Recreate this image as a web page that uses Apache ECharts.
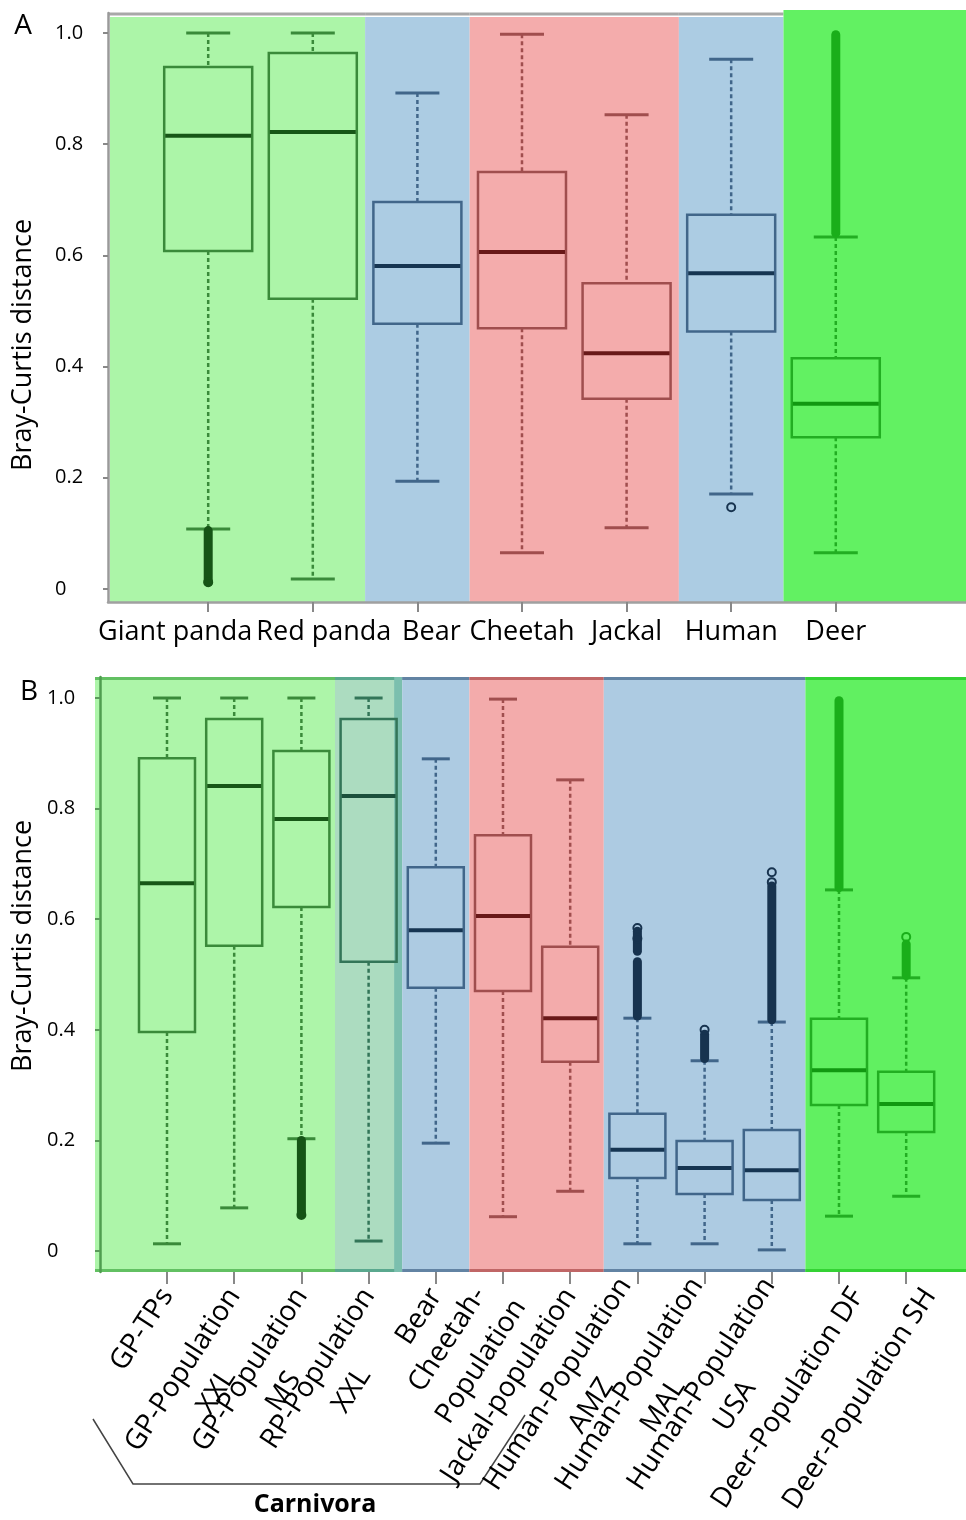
<!DOCTYPE html>
<html>
<head>
<meta charset="utf-8">
<script src="https://cdn.jsdelivr.net/npm/echarts@6/dist/echarts.min.js"></script>
<style>html,body{margin:0;padding:0;background:#fff}#c{width:966px;height:1520px}</style>
</head>
<body>
<div id="c"></div>
<script>
// ---------------- DATA ----------------
const yTicks = [0, 0.2, 0.4, 0.6, 0.8, 1.0];

// Panel A
const catsA = ['Giant panda', 'Red panda', 'Bear', 'Cheetah', 'Jackal', 'Human', 'Deer'];
const lowA  = [0.108, 0.018, 0.194, 0.065, 0.110, 0.171, 0.065];
const q1A   = [0.608, 0.522, 0.477, 0.469, 0.342, 0.463, 0.273];
const medA  = [0.815, 0.822, 0.581, 0.606, 0.424, 0.568, 0.333];
const q3A   = [0.939, 0.964, 0.696, 0.750, 0.550, 0.673, 0.415];
const highA = [1.000, 1.000, 0.892, 0.998, 0.853, 0.953, 0.633];
const groupA = [0, 0, 1, 2, 2, 1, 3];
// dense outlier runs: [category, from, to]
const outRunsA = [[0, 0.012, 0.105], [6, 0.640, 0.997]];
// single outliers: [category, value]
const outPtsA = [[5, 0.147], [0, 0.012]];
// background groups: [first category, last category, colour group]
const bgA = [[0, 1, 0], [2, 2, 1], [3, 4, 2], [5, 5, 1], [6, 6, 3]];

// Panel B
const catsB = ['GP-TPs', 'GP-Population\nXXL', 'GP-Population\nMS', 'RP-Population\nXXL', 'Bear',
  'Cheetah-\nPopulation', 'Jackal-population', 'Human-Population\nAMZ', 'Human-Population\nMAL',
  'Human-Population\nUSA', 'Deer-Population DF', 'Deer-Population SH'];
const lowB  = [0.013, 0.078, 0.203, 0.018, 0.195, 0.062, 0.108, 0.013, 0.013, 0.002, 0.063, 0.099];
const q1B   = [0.396, 0.552, 0.622, 0.523, 0.476, 0.470, 0.342, 0.132, 0.103, 0.092, 0.264, 0.215];
const medB  = [0.665, 0.841, 0.781, 0.823, 0.580, 0.606, 0.421, 0.183, 0.150, 0.146, 0.327, 0.266];
const q3B   = [0.891, 0.962, 0.904, 0.962, 0.694, 0.752, 0.550, 0.248, 0.199, 0.219, 0.420, 0.324];
const highB = [1.000, 1.000, 1.000, 1.000, 0.890, 0.998, 0.852, 0.421, 0.344, 0.414, 0.653, 0.494];
const groupB = [0, 0, 0, 4, 1, 2, 2, 1, 1, 1, 3, 3];
const outRunsB = [[2, 0.066, 0.200], [7, 0.425, 0.523], [7, 0.542, 0.578], [8, 0.348, 0.392],
  [9, 0.418, 0.660], [10, 0.657, 0.995], [11, 0.498, 0.555]];
const outPtsB = [[2, 0.065], [7, 0.584], [7, 0.565], [8, 0.400], [9, 0.685], [9, 0.667], [11, 0.568]];
const bgB = [[0, 2, 0], [3, 3, 4], [4, 4, 1], [5, 6, 2], [7, 9, 1], [10, 11, 3]];

// ---------------- STYLE ----------------
const FONT = '"Open Sans", "Noto Sans", sans-serif';
const PAL = [
  {bg: '#acf5a8', bgB: '#adf5a9', edge: '#62c062', box: '#3a8a3a', med: '#175717', out: '#165416'}, // green
  {bg: '#accce3', bgB: '#adcbe2', edge: '#6283a3', box: '#41668a', med: '#163552', out: '#17334f'}, // blue
  {bg: '#f4acac', bgB: '#f3abab', edge: '#c06666', box: '#a04e4e', med: '#691818', out: '#6c1a1a'}, // red
  {bg: '#62f162', bgB: '#61f061', edge: '#34d234', box: '#22ae22', med: '#119811', out: '#1aae1a'}, // deer
  {bg: '#acdcc0', bgB: '#acdcc0', edge: '#5aa88e', box: '#337558', med: '#1c503c', out: '#1e5440'}  // rp
];

function boxRenderer(boxW) {
  return function (params, api) {
    const x = api.value(0);
    const pal = PAL[api.value(6)];
    const lo = api.coord([x, api.value(1)]);
    const q1 = api.coord([x, api.value(2)]);
    const md = api.coord([x, api.value(3)]);
    const q3 = api.coord([x, api.value(4)]);
    const hi = api.coord([x, api.value(5)]);
    const cx = lo[0], hw = boxW / 2, cw = boxW / 4;
    const dash = {stroke: pal.box, lineWidth: 2.5, lineDash: [4, 3]};
    return {type: 'group', children: [
      {type: 'line', shape: {x1: cx, y1: hi[1], x2: cx, y2: q3[1]}, style: dash},
      {type: 'line', shape: {x1: cx, y1: q1[1], x2: cx, y2: lo[1]}, style: dash},
      {type: 'line', shape: {x1: cx - cw, y1: hi[1], x2: cx + cw, y2: hi[1]}, style: {stroke: pal.box, lineWidth: 3}},
      {type: 'line', shape: {x1: cx - cw, y1: lo[1], x2: cx + cw, y2: lo[1]}, style: {stroke: pal.box, lineWidth: 3}},
      {type: 'rect', shape: {x: cx - hw, y: q3[1], width: boxW, height: q1[1] - q3[1]}, style: {fill: 'none', stroke: pal.box, lineWidth: 2.5}},
      {type: 'line', shape: {x1: cx - hw + 1, y1: md[1], x2: cx + hw - 1, y2: md[1]}, style: {stroke: pal.med, lineWidth: 4}}
    ]};
  };
}
function runRenderer(groups) {
  return function (params, api) {
    const x = api.value(0);
    const pal = PAL[groups[x]];
    const a = api.coord([x, api.value(1)]);
    const b = api.coord([x, api.value(2)]);
    return {type: 'line', shape: {x1: a[0], y1: a[1], x2: b[0], y2: b[1]},
      style: {stroke: pal.out, lineWidth: 9, lineCap: 'round'}};
  };
}
function ptRenderer(groups) {
  return function (params, api) {
    const x = api.value(0);
    const pal = PAL[groups[x]];
    const p = api.coord([x, api.value(1)]);
    return {type: 'circle', shape: {cx: p[0], cy: p[1], r: 4}, style: {fill: 'none', stroke: pal.out, lineWidth: 2}};
  };
}
function bgRendererA(params, api) {
  const cs = params.coordSys;
  const from = api.value(0), to = api.value(1), g = api.value(2);
  const last = to === catsA.length - 1;
  const x0 = from === 0 ? cs.x + 2 : api.coord([from - 0.5, 0])[0];
  const x1 = last ? cs.x + cs.width : api.coord([to + 0.5, 0])[0];
  const top = last ? cs.y - 3 : cs.y + 4;
  const ch = [{type: 'rect', shape: {x: x0, y: top, width: x1 - x0, height: cs.y + cs.height - top}, style: {fill: PAL[g].bg}}];
  if (!last) ch.push({type: 'line', shape: {x1: from === 0 ? cs.x : x0, y1: cs.y + 1, x2: x1, y2: cs.y + 1}, style: {stroke: '#a8a8a8', lineWidth: 3}});
  return {type: 'group', children: ch};
}
function bgRendererB(params, api) {
  const cs = params.coordSys;
  const from = api.value(0), to = api.value(1), g = api.value(2);
  const last = to === catsB.length - 1;
  const x0 = from === 0 ? cs.x - 5 : api.coord([from - 0.5, 0])[0];
  const x1 = last ? cs.x + cs.width : api.coord([to + 0.5, 0])[0];
  const yb = cs.y + cs.height;
  const ch = [
    {type: 'rect', shape: {x: x0, y: cs.y, width: x1 - x0, height: cs.height}, style: {fill: PAL[g].bgB}},
    {type: 'line', shape: {x1: x0, y1: cs.y + 1.5, x2: x1, y2: cs.y + 1.5}, style: {stroke: PAL[g].edge, lineWidth: 3}},
    {type: 'line', shape: {x1: x0, y1: yb - 1.5, x2: x1, y2: yb - 1.5}, style: {stroke: PAL[g].edge, lineWidth: 3}}
  ];
  if (g === 4) ch.push({type: 'rect', shape: {x: x1 - 8, y: cs.y, width: 8, height: cs.height}, style: {fill: '#7bbfae'}});
  return {type: 'group', children: ch};
}

// measure text for centred multi-line labels
const FS_B = 28, LH_B = 40;
const cv = document.createElement('canvas').getContext('2d');
cv.font = FS_B + 'px ' + FONT;
const richB = {};
const labelsB = catsB.map((c, i) => {
  const lines = c.split('\n');
  if (lines.length === 1) return c;
  const widths = lines.map(l => cv.measureText(l).width);
  const w = Math.ceil(Math.max(...widths));
  richB['r' + i] = {width: w, align: 'center', fontSize: FS_B, fontFamily: FONT, lineHeight: LH_B, color: '#000'};
  const body = lines.map(l => '{r' + i + '|' + l + '}');
  // when the first line is the longest it sits on the tick; otherwise the block is centred
  return (widths[0] >= w - 0.5 ? ['{r' + i + '| }'] : []).concat(body).join('\n');
});
const labelsA = catsA.map((c, i) => (i === 0 ? '{sl|' + c + '}' : i === 1 ? '{sr|' + c + '}' : i === 2 ? '{sb|' + c + '}' : c));

// label anchors: the right-hand labels of panel B drift slightly right of their ticks
const idxA = catsA.map((_, i) => i);
const idxB = catsB.map((_, i) => i);
const labPosB = idxB.map(i => i + 0.07 * Math.max(0, i - 6));
// extra empty label slots at the axis ends keep every category label visible
const labValsA = [-0.9].concat(idxA, [7.2]);
const labValsB = [-0.95].concat(labPosB, [11.85]);
const fmtA = v => (Number.isInteger(v) ? labelsA[v] : '');
const fmtB = v => {
  const i = labPosB.findIndex(p => Math.abs(p - v) < 1e-3);
  return i < 0 ? '' : labelsB[i];
};
const yFmt = v => (v === 0 ? '0' : v.toFixed(1));

const chart = echarts.init(document.getElementById('c'), null, {renderer: 'canvas'});
chart.setOption({
  animation: false,
  backgroundColor: '#fff',
  grid: [
    {left: 108, right: 0, top: 13, height: 589, containLabel: false, outerBoundsMode: 'none'},
    {left: 100, right: 0, top: 677, height: 595, containLabel: false, outerBoundsMode: 'none'}
  ],
  xAxis: [
    {type: 'value', gridIndex: 0, min: -0.958, max: 7.245, z: 10,
      axisLine: {show: true, onZero: false, lineStyle: {color: '#a0a0a0', width: 2.5}},
      axisTick: {show: true, customValues: idxA, length: 10, lineStyle: {color: '#888', width: 2}},
      axisLabel: {customValues: labValsA, formatter: fmtA, fontSize: 27, fontFamily: FONT, color: '#000',
        margin: 17, hideOverlap: false,
        rich: {
          sl: {fontSize: 27, fontFamily: FONT, color: '#000', padding: [0, 66, 0, 0]},
          sr: {fontSize: 27, fontFamily: FONT, color: '#000', padding: [0, 0, 0, 22]},
          sb: {fontSize: 27, fontFamily: FONT, color: '#000', padding: [0, 0, 0, 28]}
        }},
      splitLine: {show: false}},
    {type: 'value', gridIndex: 1, min: -0.997, max: 11.89, z: 10,
      axisLine: {show: false, onZero: false},
      axisTick: {show: true, customValues: idxB, length: 12, lineStyle: {color: '#888', width: 2}},
      axisLabel: {customValues: labValsB, formatter: fmtB, rotate: 57, fontSize: FS_B, fontFamily: FONT,
        color: '#000', margin: 19, rich: richB, hideOverlap: false},
      splitLine: {show: false}}
  ],
  yAxis: [
    {type: 'value', gridIndex: 0, min: -0.0234, max: 1.036, z: 10,
      axisLine: {show: true, onZero: false, lineStyle: {color: '#9a9a9a', width: 2.5}},
      axisTick: {show: true, customValues: yTicks, length: 5, lineStyle: {color: '#888', width: 2}},
      axisLabel: {customValues: yTicks, formatter: yFmt, align: 'left', margin: 53, fontSize: 20, fontFamily: FONT, color: '#000'},
      splitLine: {show: false}},
    {type: 'value', gridIndex: 1, min: -0.038, max: 1.038, z: 10,
      axisLine: {show: true, onZero: false, lineStyle: {color: '#4f9d4f', width: 2.5}},
      axisTick: {show: true, customValues: yTicks, length: 5, lineStyle: {color: '#5a9a5a', width: 2}},
      axisLabel: {customValues: yTicks, formatter: yFmt, align: 'left', margin: 53, fontSize: 20, fontFamily: FONT, color: '#000'},
      splitLine: {show: false}}
  ],
  series: [
    {type: 'custom', xAxisIndex: 0, yAxisIndex: 0, z: 1, renderItem: bgRendererA, data: bgA},
    {type: 'custom', xAxisIndex: 0, yAxisIndex: 0, z: 3, renderItem: boxRenderer(88),
      data: catsA.map((c, i) => [i, lowA[i], q1A[i], medA[i], q3A[i], highA[i], groupA[i]])},
    {type: 'custom', xAxisIndex: 0, yAxisIndex: 0, z: 4, renderItem: runRenderer(groupA), data: outRunsA},
    {type: 'custom', xAxisIndex: 0, yAxisIndex: 0, z: 4, renderItem: ptRenderer(groupA), data: outPtsA},
    {type: 'custom', xAxisIndex: 1, yAxisIndex: 1, z: 1, renderItem: bgRendererB, data: bgB},
    {type: 'custom', xAxisIndex: 1, yAxisIndex: 1, z: 3, renderItem: boxRenderer(56),
      data: catsB.map((c, i) => [i, lowB[i], q1B[i], medB[i], q3B[i], highB[i], groupB[i]])},
    {type: 'custom', xAxisIndex: 1, yAxisIndex: 1, z: 4, renderItem: runRenderer(groupB), data: outRunsB},
    {type: 'custom', xAxisIndex: 1, yAxisIndex: 1, z: 4, renderItem: ptRenderer(groupB), data: outPtsB}
  ],
  graphic: [
    {type: 'text', x: 23, y: 26, style: {text: 'A', fontSize: 28, fontFamily: FONT, fill: '#000', align: 'center', verticalAlign: 'middle', textAlign: 'center', textVerticalAlign: 'middle'}},
    {type: 'text', x: 29, y: 692, style: {text: 'B', fontSize: 28, fontFamily: FONT, fill: '#000', align: 'center', verticalAlign: 'middle', textAlign: 'center', textVerticalAlign: 'middle'}},
    {type: 'text', x: 23, y: 345, rotation: Math.PI / 2, style: {text: 'Bray-Curtis distance', fontSize: 27, fontFamily: FONT, fill: '#000', align: 'center', verticalAlign: 'middle', textAlign: 'center', textVerticalAlign: 'middle'}},
    {type: 'text', x: 23, y: 946, rotation: Math.PI / 2, style: {text: 'Bray-Curtis distance', fontSize: 27, fontFamily: FONT, fill: '#000', align: 'center', verticalAlign: 'middle', textAlign: 'center', textVerticalAlign: 'middle'}},
    {type: 'polyline', shape: {points: [[93, 1419], [133, 1484], [480, 1484], [525, 1415]]}, style: {stroke: '#444', lineWidth: 1.5, fill: 'none'}},
    {type: 'text', x: 315, y: 1505, style: {text: 'Carnivora', fontSize: 25, fontWeight: 'bold', fontFamily: FONT, fill: '#000', align: 'center', verticalAlign: 'middle', textAlign: 'center', textVerticalAlign: 'middle'}}
  ]
});
</script>
</body>
</html>
